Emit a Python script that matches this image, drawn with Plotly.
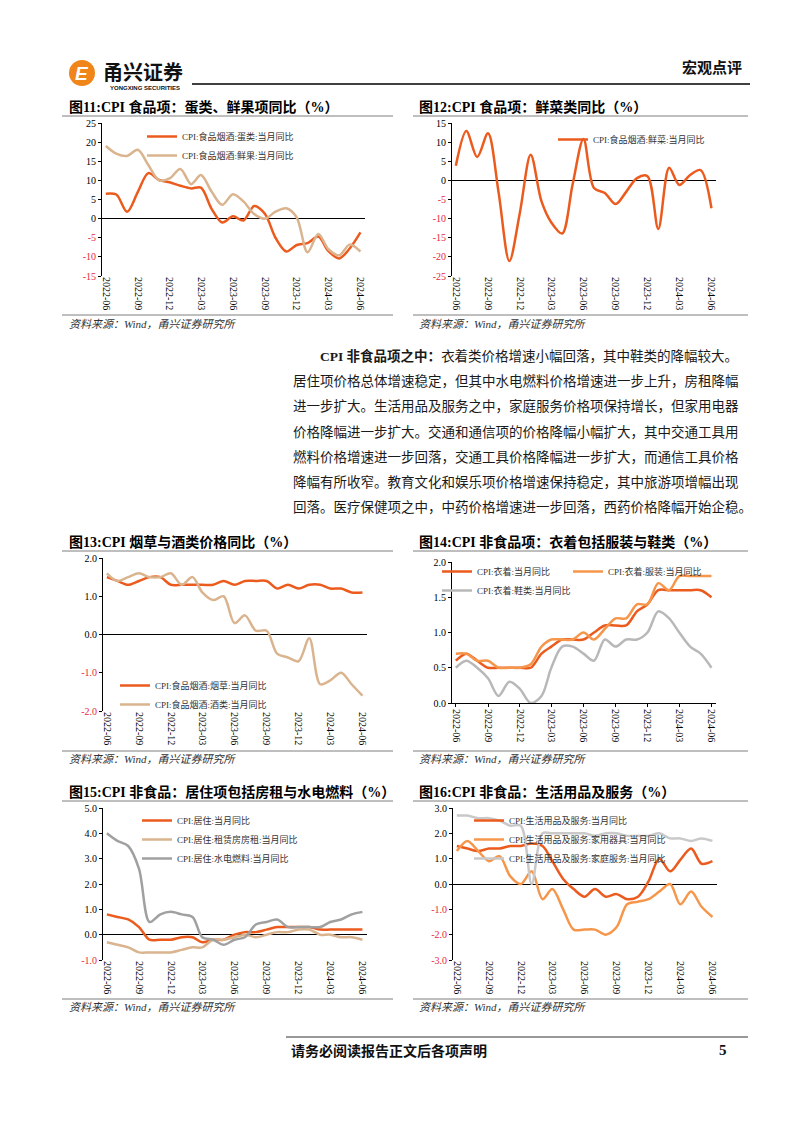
import plotly.graph_objects as go

# Page size in pixels
W, H = 802, 1133

# Months and axis tick labels
months = ['2022-06', '2022-07', '2022-08', '2022-09', '2022-10', '2022-11', '2022-12',
          '2023-01', '2023-02', '2023-03', '2023-04', '2023-05', '2023-06', '2023-07',
          '2023-08', '2023-09', '2023-10', '2023-11', '2023-12', '2024-01', '2024-02',
          '2024-03', '2024-04', '2024-05', '2024-06']
tick_months = ['2022-06', '2022-09', '2022-12', '2023-03', '2023-06',
               '2023-09', '2023-12', '2024-03', '2024-06']

# Fig 11: eggs and fresh fruit
egg   = [6.5, 6.3, 1.8, 7.0, 11.9, 10.1, 9.5, 8.6, 7.9, 8.1, 2.5, -1.0, 0.6,
         -0.5, 3.3, 1.2, -5.0, -8.6, -6.9, -6.4, -4.7, -8.5, -10.4, -7.8, -3.6]
fruit = [19.0, 17.0, 16.4, 18.0, 14.0, 10.0, 10.5, 13.0, 9.0, 11.4, 7.0, 3.6, 6.4,
         4.5, 1.2, 0.0, 1.8, 2.7, 0.3, -8.8, -4.0, -8.0, -9.6, -6.8, -8.6]
# Fig 12: fresh vegetables
veg = [3.8, 12.9, 6.1, 12.3, -3.0, -21.1, -8.5, 6.7, -5.5, -11.0, -13.9, -1.0, 10.8,
       -2.0, -3.3, -6.2, -3.0, 0.6, 1.1, -12.7, 3.3, -1.2, 1.4, 2.7, -7.3]
# Fig 13: tobacco and liquor
tobacco = [1.5, 1.4, 1.3, 1.4, 1.5, 1.5, 1.3, 1.3, 1.3, 1.3, 1.3, 1.4, 1.3,
           1.4, 1.4, 1.4, 1.2, 1.3, 1.2, 1.3, 1.3, 1.2, 1.2, 1.1, 1.1]
liquor  = [1.6, 1.4, 1.5, 1.6, 1.5, 1.5, 1.6, 1.3, 1.5, 1.1, 0.9, 1.0, 0.3,
           0.5, 0.1, 0.1, -0.5, -0.6, -0.7, -0.1, -1.3, -1.2, -1.0, -1.3, -1.6]
# Fig 14: clothing, apparel, shoes
clothing = [0.6, 0.7, 0.6, 0.5, 0.5, 0.5, 0.5, 0.5, 0.7, 0.8, 0.9, 0.9, 0.9,
            1.0, 1.1, 1.1, 1.1, 1.3, 1.4, 1.6, 1.6, 1.6, 1.6, 1.6, 1.5]
apparel  = [0.7, 0.7, 0.6, 0.6, 0.5, 0.5, 0.5, 0.55, 0.8, 0.9, 0.9, 0.9, 1.0,
            0.9, 1.05, 1.2, 1.2, 1.4, 1.4, 1.7, 1.6, 1.8, 1.8, 1.8, 1.8]
shoes    = [0.5, 0.6, 0.5, 0.35, 0.1, 0.3, 0.2, 0.0, 0.1, 0.5, 0.8, 0.8, 0.7,
            0.6, 0.9, 0.8, 0.9, 0.9, 1.0, 1.3, 1.2, 1.0, 0.8, 0.7, 0.5]
# Fig 15: housing, rent, water/electricity/fuel
housing   = [0.8, 0.7, 0.6, 0.3, -0.2, -0.2, -0.2, -0.1, -0.1, -0.3, -0.2, -0.2, 0.0,
             0.1, 0.1, 0.2, 0.3, 0.3, 0.3, 0.3, 0.2, 0.2, 0.2, 0.2, 0.2]
rent      = [-0.3, -0.4, -0.5, -0.7, -0.7, -0.7, -0.7, -0.6, -0.5, -0.5, -0.2, -0.2, -0.1,
             0.0, -0.1, 0.0, 0.1, 0.1, 0.2, 0.2, 0.0, 0.0, -0.1, -0.1, -0.2]
utilities = [4.0, 3.7, 3.5, 2.6, 0.5, 0.8, 0.9, 0.8, 0.7, -0.1, -0.2, -0.4, -0.2,
             -0.1, 0.4, 0.5, 0.6, 0.3, 0.3, 0.3, 0.3, 0.5, 0.6, 0.8, 0.9]
# Fig 16: household goods and services
household  = [1.5, 1.4, 1.3, 1.4, 1.4, 1.5, 1.5, 1.6, 1.5, 0.9, 0.2, -0.2, -0.5,
              -0.2, -0.5, -0.4, -0.6, -0.5, 0.1, 1.0, 0.5, 0.95, 1.4, 0.8, 0.9]
appliances = [1.3, 1.7, 1.3, 0.9, 1.1, 0.3, 0.0, 0.5, -0.6, -0.2, -1.0, -1.8, -1.8,
              -1.8, -2.0, -1.7, -0.8, -0.7, -0.6, -0.3, 0.0, -0.8, -0.3, -0.9, -1.3]
home_serv  = [2.7, 2.7, 2.6, 2.6, 2.5, 2.3, 2.3, 0.0, 2.0, 2.0, 2.0, 2.0, 2.0,
              1.9, 2.0, 2.0, 1.9, 1.9, 1.9, 2.0, 1.8, 1.8, 1.7, 1.8, 1.7]

# Y tick values
yt11 = [-15, -10, -5, 0, 5, 10, 15, 20, 25]
yt12 = [-25, -20, -15, -10, -5, 0, 5, 10, 15]
yt13 = [-2.0, -1.0, 0.0, 1.0, 2.0]
yt14 = [0.0, 0.5, 1.0, 1.5, 2.0]
yt15 = [-1.0, 0.0, 1.0, 2.0, 3.0, 4.0, 5.0]
yt16 = [-3.0, -2.0, -1.0, 0.0, 1.0, 2.0, 3.0]

# Colors
RED    = '#EC5B1E'
TAN    = '#D9B48F'
ORANGE = '#F5964A'
GRAY   = '#B8B8B8'
DGRAY  = '#A0A0A0'
LGRAY  = '#C9C9C9'
NEG    = '#E8283C'

SERIF = 'Liberation Serif, Noto Sans CJK SC'
CJK   = 'Noto Sans CJK SC'


def px(x):
    return x / W


def py(y):
    return 1 - y / H


def tick_text(vals, dec):
    out = []
    for v in vals:
        s = f'{v:.{dec}f}'
        if v < 0:
            s = f'<span style="color:{NEG}">{s}</span>'
        out.append(s)
    return out


# Chart layout: plot box in pixels, y range, ticks, series, legends, title
charts = [
    dict(box=(102, 365, 123, 276), yr=(-15, 25), yt=yt11, dec=0, zero=True,
         series=[('CPI:食品烟酒:蛋类:当月同比', egg, RED),
                 ('CPI:食品烟酒:鲜果:当月同比', fruit, TAN)],
         legends=[((184, 134), [0, 1])],
         title='图11:CPI 食品项：蛋类、鲜果项同比（%）', col='L', row=0),
    dict(box=(452, 716, 123, 276), yr=(-25, 15), yt=yt12, dec=0, zero=True,
         series=[('CPI:食品烟酒:鲜菜:当月同比', veg, RED)],
         legends=[((595, 137), [0])],
         title='图12:CPI 食品项：鲜菜类同比（%）', col='R', row=0),
    dict(box=(103, 367, 558, 711), yr=(-2, 2), yt=yt13, dec=1, zero=True,
         series=[('CPI:食品烟酒:烟草:当月同比', tobacco, RED),
                 ('CPI:食品烟酒:酒类:当月同比', liquor, TAN)],
         legends=[((157, 683), [0, 1])],
         title='图13:CPI 烟草与酒类价格同比（%）', col='L', row=1),
    dict(box=(452, 716, 562, 703), yr=(0, 2), yt=yt14, dec=1, zero=False,
         series=[('CPI:衣着:当月同比', clothing, RED),
                 ('CPI:衣着:服装:当月同比', apparel, ORANGE),
                 ('CPI:衣着:鞋类:当月同比', shoes, GRAY)],
         legends=[((479, 569), [0, 2]), ((610, 569), [1])],
         title='图14:CPI 非食品项：衣着包括服装与鞋类（%）', col='R', row=1),
    dict(box=(103, 367, 808, 960), yr=(-1, 5), yt=yt15, dec=1, zero=True,
         series=[('CPI:居住:当月同比', housing, RED),
                 ('CPI:居住:租赁房房租:当月同比', rent, TAN),
                 ('CPI:居住:水电燃料:当月同比', utilities, DGRAY)],
         legends=[((179, 818), [0, 1, 2])],
         title='图15:CPI 非食品：居住项包括房租与水电燃料（%）', col='L', row=2),
    dict(box=(453, 717, 808, 960), yr=(-3, 3), yt=yt16, dec=1, zero=True,
         series=[('CPI:生活用品及服务:当月同比', household, RED),
                 ('CPI:生活用品及服务:家用器具:当月同比', appliances, ORANGE),
                 ('CPI:生活用品及服务:家庭服务:当月同比', home_serv, LGRAY)],
         legends=[((511, 818), [0, 1, 2])],
         title='图16:CPI 非食品：生活用品及服务（%）', col='R', row=2),
]

# Rows: title center y, title rule y, source rule y, source text y
rows = [(107, 116, 315, 324), (542, 551, 751, 759), (792, 801, 999, 1007)]
cols = {'L': (62, 393, 67), 'R': (413, 748, 417)}

fig = go.Figure()
layout = dict(annotations=[], shapes=[])
legend_no = 0

for i, c in enumerate(charts):
    n = '' if i == 0 else str(i + 1)
    x0, x1, yt_, yb_ = c['box']

    # legends for this chart
    trace_leg = {}
    for (tx, ty), idxs in c['legends']:
        legend_no += 1
        lname = 'legend' if legend_no == 1 else f'legend{legend_no}'
        layout[lname] = dict(
            x=px(tx - 42), y=py(ty - 12), xanchor='left', yanchor='top',
            bgcolor='rgba(0,0,0,0)', borderwidth=0, tracegroupgap=0,
            font=dict(family=SERIF, size=9, color='#333333'))
        for k in idxs:
            trace_leg[k] = lname

    for k, (name, vals, color) in enumerate(c['series']):
        fig.add_trace(go.Scatter(
            x=months, y=vals, mode='lines', name=name,
            line=dict(color=color, width=2.5, shape='spline', smoothing=0.9),
            xaxis='x' + n, yaxis='y' + n, legend=trace_leg[k],
            hoverinfo='skip'))

    layout['xaxis' + n] = dict(
        domain=[px(x0), px(x1)], anchor='y' + n, type='date',
        range=['2022-05-21', '2024-06-14'],
        tickvals=tick_months, ticktext=tick_months, tickangle=90,
        showgrid=False, zeroline=False,
        showline=not c['zero'], linecolor='black', linewidth=1,
        ticks='' if c['zero'] else 'outside', ticklen=3, tickcolor='black',
        tickfont=dict(family='Liberation Serif', size=10, color='black'))
    layout['yaxis' + n] = dict(
        domain=[py(yb_), py(yt_)], anchor='x' + n, range=list(c['yr']),
        tickvals=c['yt'], ticktext=tick_text(c['yt'], c['dec']),
        showgrid=False, showline=True, linecolor='black', linewidth=1,
        ticks='outside', ticklen=3, tickcolor='black',
        zeroline=c['zero'], zerolinecolor='black', zerolinewidth=1.2,
        tickfont=dict(family='Liberation Serif', size=10, color='black'))

    # title, rules and source note
    ty_, rule_y, src_y, src_ty = rows[c['row']]
    lx, rx, tx_ = cols[c['col']]
    layout['annotations'].append(dict(
        text='<b>' + c['title'] + '</b>', x=px(tx_), y=py(ty_), xanchor='left',
        font=dict(family=SERIF, size=14, color='black')))
    layout['annotations'].append(dict(
        text='<i>资料来源：Wind，甬兴证券研究所</i>', x=px(tx_), y=py(src_ty), xanchor='left',
        font=dict(family=SERIF, size=11, color='#333333')))
    for yy in (rule_y, src_y):
        layout['shapes'].append(dict(
            type='line', xref='paper', yref='paper', x0=px(lx), x1=px(rx),
            y0=py(yy), y1=py(yy), line=dict(color='#7F7F7F', width=1)))

# Header
layout['shapes'].append(dict(type='circle', xref='paper', yref='paper',
                             x0=px(69), x1=px(95), y0=py(86), y1=py(60),
                             fillcolor='#F08519', line=dict(width=0)))
layout['shapes'].append(dict(type='line', xref='paper', yref='paper',
                             x0=px(192), x1=px(750), y0=py(84), y1=py(84),
                             line=dict(color='black', width=1.6)))
layout['annotations'] += [
    dict(text='<b><i>E</i></b>', x=px(82), y=py(73), xanchor='center',
         font=dict(family='Liberation Sans', size=19, color='white')),
    dict(text='<b>甬兴证券</b>', x=px(143), y=py(71), xanchor='center',
         font=dict(family=CJK, size=20, color='#111111')),
    dict(text='<b>YONGXING SECURITIES</b>', x=px(145), y=py(88), xanchor='center',
         font=dict(family='Liberation Sans', size=6, color='#111111')),
    dict(text='<b>宏观点评</b>', x=px(744), y=py(67), xanchor='right',
         font=dict(family=CJK, size=15, color='#111111')),
]

# Body paragraph
para = [
    '<b>CPI 非食品项之中：</b>衣着类价格增速小幅回落，其中鞋类的降幅较大。',
    '居住项价格总体增速稳定，但其中水电燃料价格增速进一步上升，房租降幅',
    '进一步扩大。生活用品及服务之中，家庭服务价格项保持增长，但家用电器',
    '价格降幅进一步扩大。交通和通信项的价格降幅小幅扩大，其中交通工具用',
    '燃料价格增速进一步回落，交通工具价格降幅进一步扩大，而通信工具价格',
    '降幅有所收窄。教育文化和娱乐项价格增速保持稳定，其中旅游项增幅出现',
    '回落。医疗保健项之中，中药价格增速进一步回落，西药价格降幅开始企稳。',
]
for j, line in enumerate(para):
    layout['annotations'].append(dict(
        text=line, x=px(318 if j == 0 else 291), y=py(356 + 25.2 * j), xanchor='left',
        font=dict(family=SERIF, size=13.5, color='#1A1A1A')))

# Footer
layout['shapes'].append(dict(type='line', xref='paper', yref='paper',
                             x0=px(286), x1=px(748), y0=py(1037), y1=py(1037),
                             line=dict(color='#333333', width=1)))
layout['annotations'] += [
    dict(text='<b>请务必阅读报告正文后各项声明</b>', x=px(289), y=py(1050), xanchor='left',
         font=dict(family=CJK, size=14, color='#111111')),
    dict(text='<b>5</b>', x=px(723), y=py(1050), xanchor='center',
         font=dict(family='Liberation Serif', size=15, color='#111111')),
]

for a in layout['annotations']:
    a.setdefault('xref', 'paper')
    a.setdefault('yref', 'paper')
    a.setdefault('showarrow', False)
    a.setdefault('yanchor', 'middle')

fig.update_layout(**layout)
fig.update_layout(
    width=W, height=H,
    margin=dict(l=0, r=0, t=0, b=0),
    plot_bgcolor='white', paper_bgcolor='white',
    showlegend=True, hovermode=False,
    template=None
)

fig.write_html("out.html", config={'displayModeBar': False},
               post_script="document.body.style.margin='0';document.documentElement.style.overflow='hidden';")
